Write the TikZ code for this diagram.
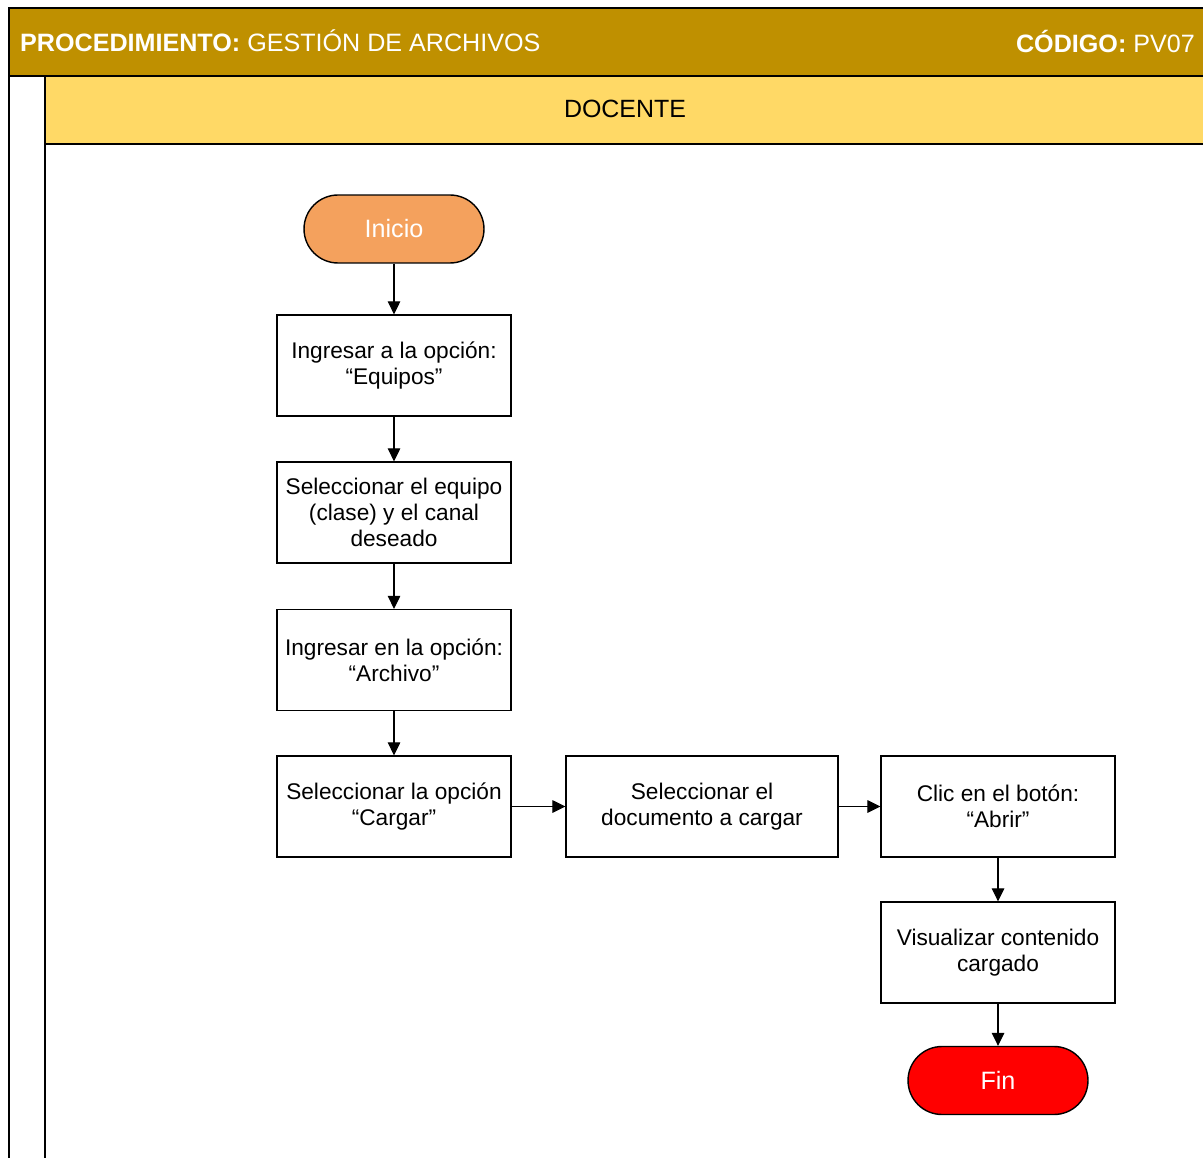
\documentclass[tikz,border=0pt]{standalone}
\usepackage{fontspec}
\setmainfont{Liberation Sans}
\usetikzlibrary{arrows.meta}
\definecolor{oro}{HTML}{BF9000}
\definecolor{amarillo}{HTML}{FFD966}
\definecolor{naranja}{HTML}{F4A15D}
\begin{document}
\begin{tikzpicture}[x=0.02cm,y=-0.02cm,
  paso/.style={draw,line width=0.8pt,minimum width=4.68cm,minimum height=2.02cm,inner sep=0pt,align=center,font=\fontsize{12.9}{14.7}\selectfont},
  extremo/.style={draw,line width=0.8pt,rounded corners=0.68cm,minimum width=3.6cm,minimum height=1.36cm,inner sep=0pt,text=white,font=\fontsize{14.3}{16}\selectfont},
  flecha/.style={-{Triangle[width=7.2pt,length=7.4pt]},line width=0.6pt}]
        \clip (0,0) rectangle (1203,1158);
        \draw[line width=1.2pt,fill=oro] (9,8) rectangle (1215,76);
        \draw[line width=1.2pt,fill=amarillo] (45,76) rectangle (1215,144);
        \draw[line width=1.2pt] (9,76) -- (9,1170);
        \draw[line width=1.2pt] (45,144) -- (45,1170);
        \node[anchor=west,text=white,font=\fontsize{14.3}{16}\selectfont] (titulo) at (14,41) {\textbf{PROCEDIMIENTO:} GESTIÓN DE ARCHIVOS};
        \node[anchor=east,text=white,font=\fontsize{14.3}{16}\selectfont] (codigo) at (1201,41) {\textbf{CÓDIGO:} PV07};
        \node[font=\fontsize{14.2}{16}\selectfont] (rol) at (625,109) {DOCENTE};
        % flujo
        \node[extremo,fill=naranja] (inicio) at (394,229) {Inicio};
        \node[paso] (equipos) at (394,365.5) {Ingresar a la opción:\\“Equipos”};
        \node[paso] (canal) at (394,512.5) {Seleccionar el equipo\\(clase) y el canal\\deseado};
        \node[paso] (archivo) at (394,660) {Ingresar en la opción:\\“Archivo”};
        \node[paso] (cargar) at (394,806.5) {Seleccionar la opción\\“Cargar”};
        \node[paso,minimum width=5.44cm] (documento) at (702,806.5) {Seleccionar el\\documento a cargar};
        \node[paso] (abrir) at (998,806.5) {Clic en el botón:\\“Abrir”};
        \node[paso] (visualizar) at (998,952.5) {Visualizar contenido\\cargado};
        \node[extremo,fill=red] (fin) at (998,1080.5) {Fin};
        \draw[flecha] (inicio) -- (equipos);
        \draw[flecha] (equipos) -- (canal);
        \draw[flecha] (canal) -- (archivo);
        \draw[flecha] (archivo) -- (cargar);
        \draw[flecha] (cargar) -- (documento);
        \draw[flecha] (documento) -- (abrir);
        \draw[flecha] (abrir) -- (visualizar);
        \draw[flecha] (visualizar) -- (fin);
\end{tikzpicture}
\end{document}
